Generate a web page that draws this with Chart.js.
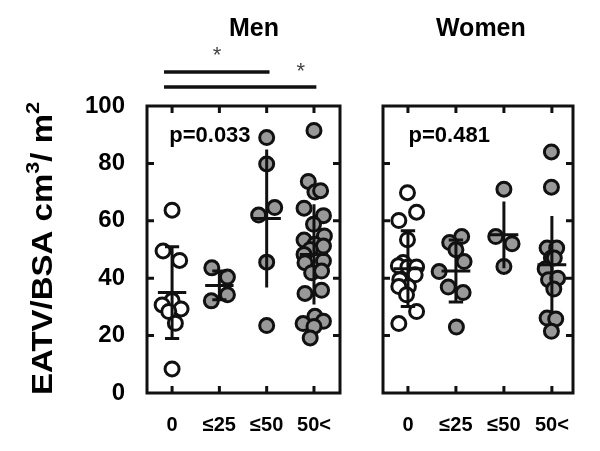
<!DOCTYPE html>
<html>
<head>
<meta charset="utf-8">
<script src="https://cdn.jsdelivr.net/npm/chart.js@4.4.1/dist/chart.umd.min.js"></script>
<style>
  body { margin: 0; background: #fff; }
  #wrap { position: relative; width: 600px; height: 451px; }
  canvas { position: absolute; left: 0; top: 0; }
</style>
</head>
<body>
<div id="wrap">
  <canvas id="menChart" width="600" height="451"></canvas>
  <canvas id="womenChart" width="600" height="451"></canvas>
</div>
<script>
const groups = ['0', '≤25', '≤50', '50<'];
const yTicks = [0, 20, 40, 60, 80, 100];
const yTitle = ['EATV/BSA cm', '3', '/ m', '2'];

// Men: values and horizontal jitter of each dot
const men0 = [63.7, 49.5, 46.2, 32.2, 30.7, 29.3, 28.4, 24.3, 8.4];
const men0Jit = [0, -0.19, 0.16, 0, -0.21, 0.19, -0.07, 0.07, 0];
const men1 = [43.6, 40.4, 34.2, 32.1];
const men1Jit = [-0.16, 0.17, 0.17, -0.17];
const men2 = [89, 79.8, 64.6, 62, 45.6, 23.5];
const men2Jit = [0, 0, 0.17, -0.17, 0, 0];
const men3 = [91.5, 73.7, 70, 70.5, 64.4, 61.8, 58.8, 54.7, 53.3, 51.8, 51.2, 50,
              48.3, 46, 45.4, 41.9, 42.5, 35.8, 34.7, 26.7, 25, 24.2, 23.2, 19.2];
const men3Jit = [0, -0.12, 0.02, 0.14, -0.21, 0.2, -0.01, 0.22, -0.21, 0.02, 0.2, -0.08,
                 -0.21, 0.2, -0.19, -0.05, 0.16, 0.16, -0.19, 0.02, 0.2, -0.23, 0, -0.08];
const menMean = [35, 37.5, 60.8, 48.3];
const menSD = [16, 5, 24, 17.5];
const menCaps = [true, true, false, false];

// Women
const women0 = [69.8, 63, 60.1, 53.4, 45.5, 44.3, 43.9, 43.9, 41.2, 39.5, 37.1, 37.1, 34.2, 28.4, 24.2];
const women0Jit = [-0.01, 0.18, -0.19, -0.01, -0.1, -0.2, 0, 0.18, 0.15, -0.17, 0.01, -0.19, -0.03, 0.18, -0.19];
const women1 = [54.5, 52.4, 49.9, 45.8, 42.3, 36.9, 35, 23];
const women1Jit = [0.12, -0.13, 0, 0.17, -0.35, -0.16, 0.15, 0.01];
const women2 = [71, 54.5, 52, 44.1];
const women2Jit = [0, -0.17, 0.17, 0];
const women3 = [84, 71.7, 50.5, 50.5, 47, 47, 43.2, 39.5, 40, 36.2, 26.1, 25.8, 21.5];
const women3Jit = [-0.01, -0.01, -0.1, 0.1, -0.01, 0.05, -0.14, -0.07, 0.12, 0.04, -0.1, 0.08, -0.01];
const womenMean = [43.3, 42.5, 55.1, 44.7];
const womenSD = [13.2, 10.8, 11.6, 17];
const womenCaps = [true, true, false, false];

const FONT = 'Liberation Sans, Arial, sans-serif';

function dots(idx, ys, jit) {
  return ys.map((y, k) => ({ x: idx + jit[k], y: y }));
}

function errorLines(mean, sd, caps) {
  const pts = [];
  mean.forEach((m, i) => {
    const s = sd[i];
    pts.push({ x: i, y: m - s }, { x: i, y: m + s }, { x: i, y: null });
    pts.push({ x: i - 0.3, y: m }, { x: i + 0.3, y: m }, { x: i, y: null });
    if (caps[i]) {
      pts.push({ x: i - 0.15, y: m + s }, { x: i + 0.15, y: m + s }, { x: i, y: null });
      pts.push({ x: i - 0.15, y: m - s }, { x: i + 0.15, y: m - s }, { x: i, y: null });
    }
  });
  return pts;
}

const framePlugin = {
  id: 'frame',
  afterDraw(chart, args, opts) {
    const ctx = chart.ctx;
    const a = chart.chartArea;
    const xs = chart.scales.x, ys = chart.scales.y;
    ctx.save();
    ctx.strokeStyle = '#111';
    ctx.lineWidth = 3;
    ctx.strokeRect(a.left, a.top, a.right - a.left, a.bottom - a.top);
    ctx.beginPath();
    yTicks.slice(1, -1).forEach(v => {
      const py = ys.getPixelForValue(v);
      ctx.moveTo(a.left, py); ctx.lineTo(a.left + 7, py);
      ctx.moveTo(a.right, py); ctx.lineTo(a.right - 7, py);
    });
    groups.forEach((g, i) => {
      const px = xs.getPixelForValue(i);
      ctx.moveTo(px, a.bottom); ctx.lineTo(px, a.bottom - 7);
      ctx.moveTo(px, a.top); ctx.lineTo(px, a.top + 7);
    });
    ctx.stroke();

    ctx.fillStyle = '#000';
    ctx.textAlign = 'center';
    ctx.textBaseline = 'middle';
    ctx.font = 'bold 25px ' + FONT;
    ctx.fillText(opts.title, xs.getPixelForValue(opts.titleX), 29);
    ctx.font = 'bold 22px ' + FONT;
    ctx.fillText(opts.p, xs.getPixelForValue(opts.pX), ys.getPixelForValue(89.5));

    if (opts.bars) {
      ctx.lineWidth = 3.5;
      ctx.beginPath();
      opts.bars.forEach(b => {
        ctx.moveTo(xs.getPixelForValue(b[0]), a.top - b[2]);
        ctx.lineTo(xs.getPixelForValue(b[1]), a.top - b[2]);
      });
      ctx.stroke();
      ctx.fillStyle = '#444';
      ctx.font = '22px ' + FONT;
      opts.stars.forEach(s => {
        ctx.fillText('*', xs.getPixelForValue(s[0]), a.top - s[1]);
      });
    }

    if (opts.yTitle) {
      ctx.fillStyle = '#000';
      ctx.textAlign = 'left';
      ctx.textBaseline = 'alphabetic';
      const big = 'bold 29px ' + FONT, small = 'bold 19px ' + FONT;
      let w = 0;
      const parts = yTitle.map((t, k) => {
        ctx.font = k % 2 ? small : big;
        const pw = ctx.measureText(t).width;
        const p = { t: t, f: ctx.font, x: w, up: k % 2 ? 13 : 0 };
        w += pw;
        return p;
      });
      ctx.translate(52, a.bottom + 2);
      ctx.rotate(-Math.PI / 2);
      ctx.scale(293 / w, 1);
      parts.forEach(p => {
        ctx.font = p.f;
        ctx.fillText(p.t, p.x, -p.up);
      });
    }
    ctx.restore();
  }
};

function makePanel(id, sets, mean, sd, caps, xRange, padding, showY, extra) {
  const open = dots(0, sets[0][0], sets[0][1]);
  const gray = [];
  for (let i = 1; i < 4; i++) gray.push(...dots(i, sets[i][0], sets[i][1]));
  return new Chart(document.getElementById(id), {
    type: 'scatter',
    data: {
      datasets: [
        {
          data: errorLines(mean, sd, caps),
          showLine: true,
          spanGaps: false,
          borderColor: '#111',
          borderWidth: 3,
          borderCapStyle: 'butt',
          pointRadius: 0,
          order: 0
        },
        {
          data: gray,
          pointRadius: 7,
          pointBackgroundColor: '#999999',
          pointBorderColor: '#111',
          pointBorderWidth: 3,
          order: 1
        },
        {
          data: open,
          pointRadius: 7,
          pointBackgroundColor: '#fff',
          pointBorderColor: '#111',
          pointBorderWidth: 3,
          order: 2
        }
      ]
    },
    options: {
      responsive: false,
      animation: false,
      clip: false,
      layout: { padding: padding },
      plugins: {
        legend: { display: false },
        tooltip: { enabled: false },
        frame: extra
      },
      scales: {
        x: {
          type: 'linear',
          min: xRange[0],
          max: xRange[1],
          afterBuildTicks: s => { s.ticks = groups.map((g, i) => ({ value: i })); },
          afterFit: s => { s.height = 58; },
          grid: { display: false },
          border: { display: false },
          ticks: {
            callback: v => groups[v],
            color: '#000',
            font: { family: FONT, size: 20, weight: 'bold' },
            padding: 12,
            maxRotation: 0
          }
        },
        y: {
          min: 0,
          max: 100,
          afterBuildTicks: s => { s.ticks = yTicks.map(v => ({ value: v })); },
          afterFit: s => { s.width = showY ? 147 : 0; },
          grid: { display: false },
          border: { display: false },
          ticks: {
            display: showY,
            color: '#000',
            font: { family: FONT, size: 24, weight: 'bold' },
            padding: 14
          }
        }
      }
    },
    plugins: [framePlugin]
  });
}

makePanel('menChart',
  [[men0, men0Jit], [men1, men1Jit], [men2, men2Jit], [men3, men3Jit]],
  menMean, menSD, menCaps, [-0.53, 3.55],
  { left: 0, right: 260, top: 106, bottom: 0 }, true,
  {
    title: 'Men', titleX: 1.73, p: 'p=0.033', pX: 0.8, yTitle: true,
    bars: [[-0.17, 2.06, 34], [-0.17, 3.05, 19]],
    stars: [[0.95, 50], [2.72, 34]]
  });

makePanel('womenChart',
  [[women0, women0Jit], [women1, women1Jit], [women2, women2Jit], [women3, women3Jit]],
  womenMean, womenSD, womenCaps, [-0.52, 3.44],
  { left: 383, right: 27, top: 106, bottom: 0 }, false,
  { title: 'Women', titleX: 1.52, p: 'p=0.481', pX: 0.86, yTitle: false });
</script>
</body>
</html>
